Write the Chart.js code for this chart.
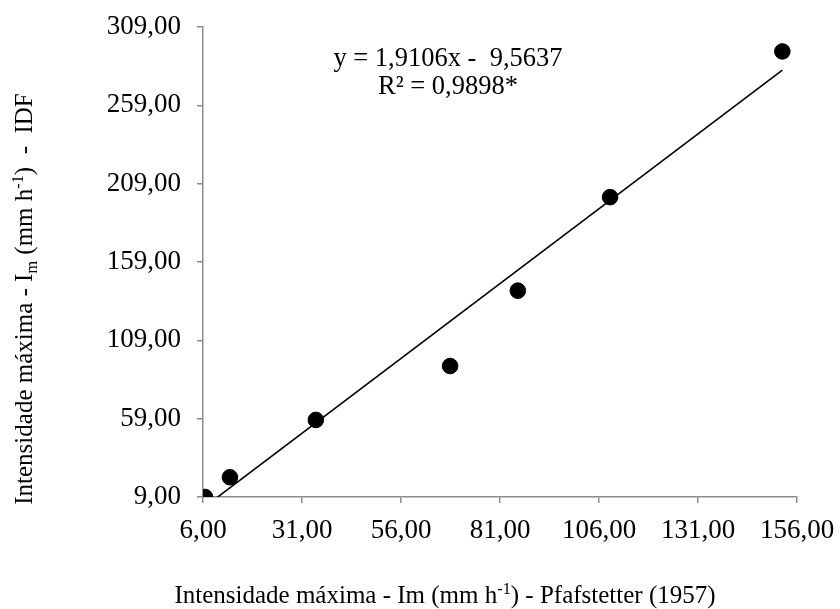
<!DOCTYPE html>
<html><head><meta charset="utf-8">
<script src="https://cdn.jsdelivr.net/npm/chart.js@4.4.1/dist/chart.umd.min.js"></script>
<style>html,body{margin:0;padding:0;background:#fff;}#wrap{width:840px;height:609px;position:relative;}</style>
</head><body><div id="wrap"><canvas id="c"></canvas></div>
<script>
const xValues = [6.5, 12.8, 34.5, 68.4, 85.5, 108.8, 152.3];
const yValues = [9.0, 21.6, 58.2, 92.6, 140.7, 200.4, 293.4];
const xTickValues = [6, 31, 56, 81, 106, 131, 156];
const xTickLabels = ['6,00','31,00','56,00','81,00','106,00','131,00','156,00'];
const yTickValues = [9, 59, 109, 159, 209, 259, 309];
const yTickLabels = ['9,00','59,00','109,00','159,00','209,00','259,00','309,00'];
const slope = 1.9106, intercept = -9.5637;
const eqLine1 = 'y = 1,9106x -  9,5637';
const eqLine2 = 'R² = 0,9898*';
const FONT = '"Liberation Serif", "Times New Roman", serif';

const points = xValues.map((x,i)=>({x, y:yValues[i]}));
const xmin = Math.min(...xValues), xmax = Math.max(...xValues);
const trend = [{x:xmin, y:slope*xmin+intercept},{x:xmax, y:slope*xmax+intercept}];

function drawRich(ctx, parts, size) {
  let w = 0;
  parts.forEach(p=>{ const s = p[1]==='n'?size:size*0.65; ctx.font = s+'px '+FONT; w += ctx.measureText(p[0]).width; });
  let x = -w/2;
  parts.forEach(p=>{
    const s = p[1]==='n'?size:size*0.65;
    ctx.font = s+'px '+FONT;
    const dy = p[1]==='sup' ? -size*0.38 : (p[1]==='sub' ? size*0.2 : 0);
    ctx.fillText(p[0], x, dy);
    x += ctx.measureText(p[0]).width;
  });
}

const annot = {
  id:'annot',
  afterDraw(chart){
    const ctx = chart.ctx;
    ctx.save();
    ctx.fillStyle = '#000';
    ctx.textBaseline = 'alphabetic';
    ctx.textAlign = 'left';
    ctx.save();
    ctx.translate(445, 603);
    drawRich(ctx, [['Intensidade máxima - Im (mm h','n'],['-1','sup'],[') - Pfafstetter (1957)','n']], 25);
    ctx.restore();
    ctx.save();
    ctx.translate(32, 299);
    ctx.rotate(-Math.PI/2);
    drawRich(ctx, [['Intensidade máxima - I','n'],['m','sub'],[' (mm h','n'],['-1','sup'],[')  -  IDF','n']], 25);
    ctx.restore();
    ctx.textAlign = 'center';
    ctx.font = '26.5px '+FONT;
    ctx.fillText(eqLine1, 448, 66);
    ctx.fillText(eqLine2, 448, 94);
    ctx.restore();
  }
};

new Chart(document.getElementById('c'), {
  type:'scatter',
  data:{datasets:[
    {data:points, backgroundColor:'#000', borderColor:'#000', pointRadius:7.8, pointHoverRadius:7.8, order:1},
    {type:'line', data:trend, borderColor:'#000', borderWidth:1.6, pointRadius:0, fill:false, order:2}
  ]},
  plugins:[annot],
  options:{
    responsive:true, maintainAspectRatio:false, animation:false,
    layout:{padding:{left:0, top:27, right:43, bottom:0}},
    plugins:{legend:{display:false}, tooltip:{enabled:false}},
    scales:{
      x:{type:'linear', min:6, max:156,
        afterBuildTicks(s){ s.ticks = xTickValues.map(v=>({value:v})); },
        afterFit(s){ s.height = 112; s.paddingLeft = 0; s.paddingRight = 0; },
        grid:{drawOnChartArea:false, drawTicks:true, tickLength:6, color:'#8c8c8c', lineWidth:1.5},
        border:{display:true, color:'#8c8c8c', width:1.5},
        ticks:{color:'#000', padding:12, maxRotation:0, autoSkip:false, font:{family:FONT, size:27},
          callback(v){ const i = xTickValues.indexOf(v); return i>=0?xTickLabels[i]:''; }}
      },
      y:{type:'linear', min:9, max:309,
        afterBuildTicks(s){ s.ticks = yTickValues.map(v=>({value:v})); },
        afterFit(s){ s.width = 203; s.paddingTop = 0; s.paddingBottom = 0; },
        grid:{drawOnChartArea:false, drawTicks:true, tickLength:6, color:'#8c8c8c', lineWidth:1.5},
        border:{display:true, color:'#8c8c8c', width:1.5},
        ticks:{color:'#000', padding:16, autoSkip:false, font:{family:FONT, size:27},
          callback(v){ const i = yTickValues.indexOf(v); return i>=0?yTickLabels[i]:''; }}
      }
    }
  }
});
</script></body></html>
